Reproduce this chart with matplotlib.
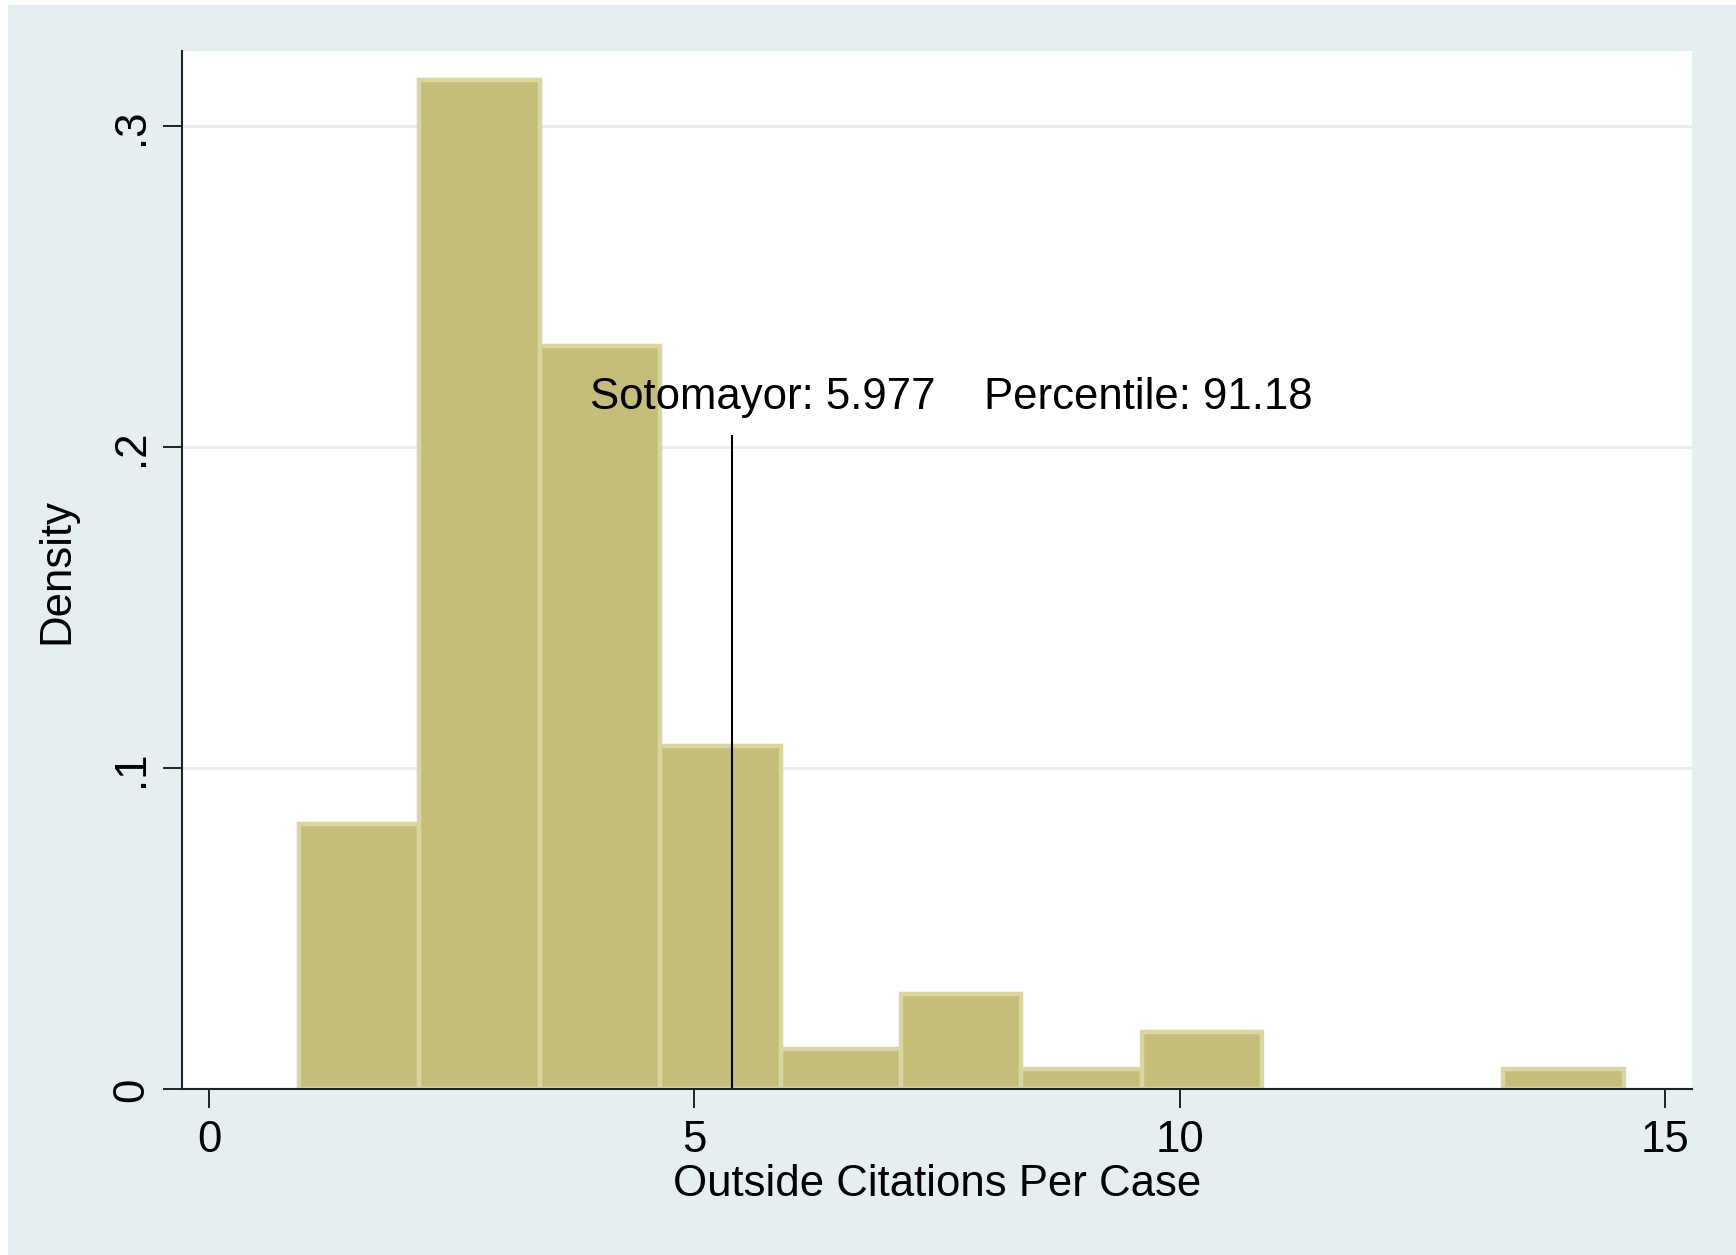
import matplotlib
matplotlib.use("Agg")
import matplotlib.pyplot as plt
from matplotlib.patches import Rectangle

plt.rcParams["font.family"] = ["Liberation Sans", "DejaVu Sans"]

# histogram bins (left edge, width) and densities
bin_start = 0.925
bin_width = 1.241
densities = [0.0826, 0.3145, 0.2315, 0.1070, 0.0124, 0.0296, 0.0062, 0.0179, 0.0, 0.0, 0.0062]

# marker line for Sotomayor
line_x = 5.39
line_top = 0.2035
label_text = "Sotomayor: 5.977    Percentile: 91.18"

x_ticks = [0, 5, 10, 15]
y_ticks = [0, 0.1, 0.2, 0.3]
y_ticklabels = ["0", ".1", ".2", ".3"]

bg = "#e5eef0"
fill = "#c7bd7b"
edge = "#d9d6a2"
fs = 31.5

fig = plt.figure(figsize=(17.36, 12.559), dpi=100, facecolor="white")
# stata graph region
fig.patches.append(Rectangle((8 / 1736, 0), 1, 1250 / 1256, transform=fig.transFigure,
                             facecolor=bg, edgecolor="none", zorder=-10))

ax = fig.add_axes([182 / 1736, 166 / 1256, 1510 / 1736, 1038 / 1256])
ax.set_zorder(1)
ax.set_facecolor("white")

lefts = [bin_start + i * bin_width for i in range(len(densities))]
for l, d in zip(lefts, densities):
    if d > 0:
        ax.bar(l, d, width=bin_width, align="edge", color=fill, edgecolor=edge,
               linewidth=3.2, zorder=2)

ax.set_xlim(-0.278, 15.28)
ax.set_ylim(0, 0.3234)

# grid
for y in y_ticks[1:]:
    ax.axhline(y, color=bg, linewidth=2.2, zorder=1)

ax.plot([line_x, line_x], [0, line_top], color="black", linewidth=1.5, zorder=3)
ax.text(3.925, 0.2157, label_text, fontsize=fs, va="center", ha="left", zorder=4)

ax.set_xticks(x_ticks)
ax.set_xticklabels([str(t) for t in x_ticks], fontsize=fs)
ax.set_yticks(y_ticks)
ax.set_yticklabels(y_ticklabels, fontsize=fs, rotation=90, va="center")

ax.tick_params(axis="both", direction="out", length=13.5, width=1.4, color="#222222")
ax.tick_params(axis="x", pad=8)
ax.tick_params(axis="y", pad=8)

for s in ["top", "right"]:
    ax.spines[s].set_visible(False)
for s in ["left", "bottom"]:
    ax.spines[s].set_linewidth(1.5)
    ax.spines[s].set_color("#222222")
    ax.spines[s].set_zorder(5)

ax.set_xlabel("Outside Citations Per Case", fontsize=fs, labelpad=2)
ax.set_ylabel("Density", fontsize=fs, labelpad=24)

fig.savefig("out.png", dpi=100, facecolor="white")
